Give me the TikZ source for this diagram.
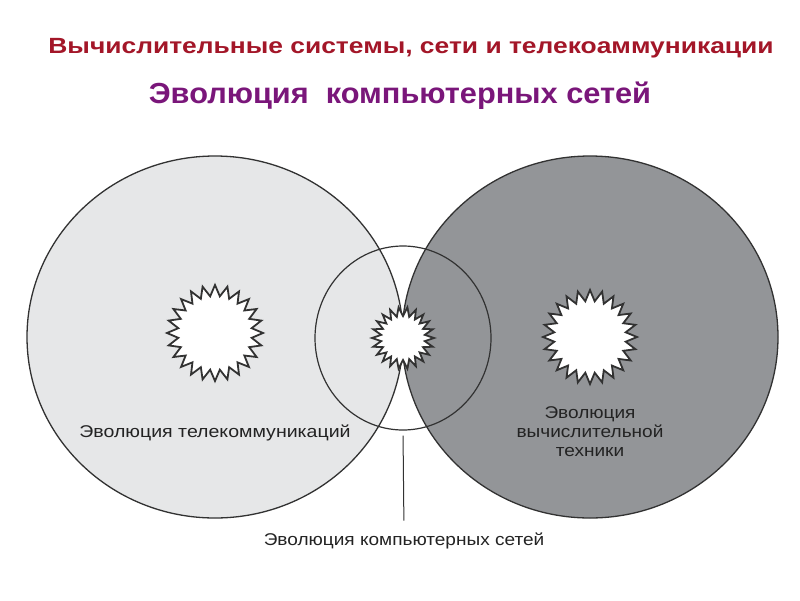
\documentclass[tikz,border=0pt]{standalone}
\usepackage{fontspec}
\setmainfont{Liberation Sans}
\usetikzlibrary{shapes.geometric}
\definecolor{lightc}{RGB}{230,231,232}
\definecolor{darkc}{RGB}{147,149,152}
\definecolor{linec}{RGB}{50,50,50}
\definecolor{titlered}{RGB}{163,22,40}
\definecolor{titlepurple}{RGB}{122,22,122}
\definecolor{labelc}{RGB}{35,35,35}
\tikzset{
  bigarea/.style={ellipse, draw=linec, line width=1.3pt, minimum width=376pt, minimum height=362pt, inner sep=0pt},
  netarea/.style={ellipse, draw=linec, line width=1.2pt, minimum width=176pt, minimum height=184pt, inner sep=0pt},
  lbl/.style={text=labelc, font=\fontsize{17}{19}\selectfont, align=center, inner sep=0pt},
  burst/.style={draw=linec, line width=1.8pt, fill=white, line join=miter}
}
\newcommand{\starburst}[5]{% x, y, R, r, n
  \pgfmathsetmacro{\stepang}{180/#5}
  \pgfmathtruncatemacro{\lastidx}{2*#5-1}
  \begin{scope}[shift={(#1,#2)}]
    \draw[burst] plot[samples at={0,...,\lastidx}] (\x*\stepang:{#3-(#3-#4)*mod(\x,2)}) -- cycle;
  \end{scope}
}
\begin{document}
\begin{tikzpicture}[x=1pt,y=-1pt]
\useasboundingbox (0,0) rectangle (800,600);
\fill[white] (0,0) rectangle (800,600);
\node[font=\fontsize{22}{24}\bfseries\selectfont, text=titlered, inner sep=0pt] (title) at (411,48) {\scalebox{1.2}[1]{Вычислительные системы, сети и телекоаммуникации}};
\node[font=\fontsize{29}{31}\bfseries\selectfont, text=titlepurple, inner sep=0pt] (subtitle) at (400,96) {\scalebox{1.06}[1]{Эволюция\ \ компьютерных сетей}};
\node[bigarea, fill=lightc] (tele) at (215,337) {};
\node[bigarea, fill=darkc] (comp) at (590,337) {};
\node[netarea] (net) at (403,338) {};
\starburst{215}{333}{48}{37}{24}
\starburst{590}{337}{47}{36}{24}
\starburst{403}{338}{31}{22}{22}
\node[lbl] (ltele) at (215,433) {\scalebox{1.15}[1]{Эволюция телекоммуникаций}};
\node[lbl] (lcomp) at (590,432) {\scalebox{1.12}[1]{Эволюция}\\\scalebox{1.12}[1]{вычислительной}\\\scalebox{1.12}[1]{техники}};
\node[lbl] (lnet) at (404,541) {\scalebox{1.12}[1]{Эволюция компьютерных сетей}};
\draw[linec, line width=1pt, shorten <=5pt, shorten >=12pt] (net.south) -- (lnet.north);
\end{tikzpicture}
\end{document}
